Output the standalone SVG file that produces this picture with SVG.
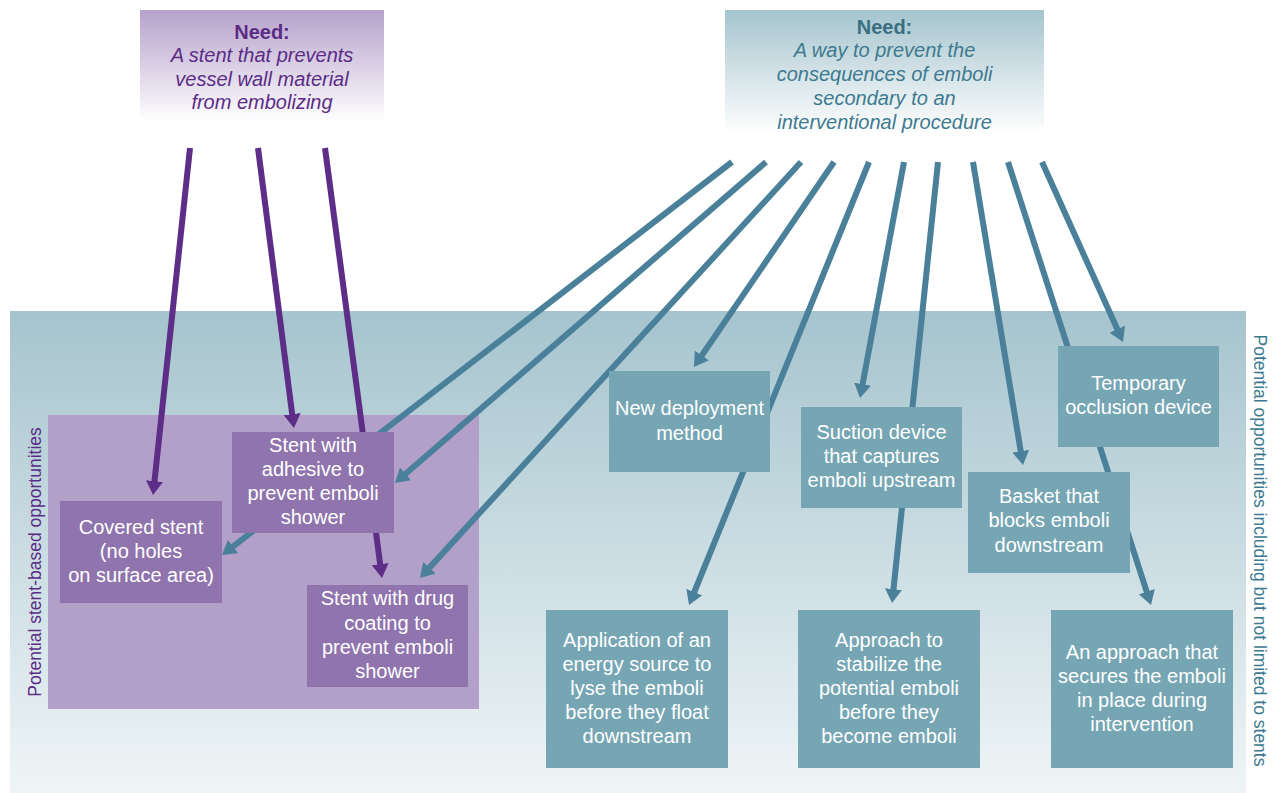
<svg xmlns="http://www.w3.org/2000/svg" width="1279" height="793" viewBox="0 0 1279 793">
<defs>
<linearGradient id="gPanel" x1="0" y1="0" x2="0" y2="1">
<stop offset="0" stop-color="#a6c4ce"/>
<stop offset="1" stop-color="#eff5f7"/>
</linearGradient>
<linearGradient id="gNeedP" x1="0" y1="0" x2="0" y2="1">
<stop offset="0" stop-color="#b5a1cb"/>
<stop offset="1" stop-color="#ffffff"/>
</linearGradient>
<linearGradient id="gNeedT" x1="0" y1="0" x2="0" y2="1">
<stop offset="0" stop-color="#a5c4ce"/>
<stop offset="1" stop-color="#ffffff"/>
</linearGradient>
<marker id="mP" markerUnits="userSpaceOnUse" viewBox="0 0 14 17" markerWidth="14" markerHeight="17" refX="1" refY="8.5" orient="auto">
<path d="M0,0 L14,8.5 L0,17 z" fill="#5e2d87"/>
</marker>
<marker id="mT" markerUnits="userSpaceOnUse" viewBox="0 0 14 17" markerWidth="14" markerHeight="17" refX="1" refY="8.5" orient="auto">
<path d="M0,0 L14,8.5 L0,17 z" fill="#4a8099"/>
</marker>
</defs>
<style>
.pn{fill:#8f74ad}
.tn{fill:#76a6b4}
.nt{font-family:"Liberation Sans",Arial,sans-serif;font-size:20px;fill:#ffffff;text-anchor:middle}
.ap{stroke:#5e2d87;stroke-width:6;fill:none;marker-end:url(#mP)}
.at{stroke:#4a8099;stroke-width:6;fill:none;marker-end:url(#mT)}
.nd{font-family:"Liberation Sans",Arial,sans-serif;font-size:20px;text-anchor:middle}
.side{font-family:"Liberation Sans",Arial,sans-serif;font-size:17.5px;text-anchor:middle}
</style>
<rect width="1279" height="793" fill="#ffffff"/>
<g id="panel">
<rect x="10" y="311" width="1236" height="482" fill="url(#gPanel)"/>
<text class="side" fill="#3d7a8f" transform="translate(1254,550.5) rotate(90)">Potential opportunities including but not limited to stents</text>
</g>
<g id="stent-region">
<rect x="48" y="415" width="431" height="294" fill="#b3a0c9"/>
<text class="side" fill="#5b2c86" transform="translate(41,562) rotate(-90)">Potential stent-based opportunities</text>
</g>
<g id="need-stent">
<rect x="140" y="10" width="244" height="112" fill="url(#gNeedP)"/>
<text class="nd" fill="#5b2c86"><tspan x="262" y="38.5" font-weight="bold">Need:</tspan><tspan x="262" y="62" font-style="italic">A stent that prevents</tspan><tspan x="262" y="85.5" font-style="italic">vessel wall material</tspan><tspan x="262" y="109" font-style="italic">from embolizing</tspan></text>
</g>
<g id="need-emboli">
<rect x="725" y="10" width="319" height="124" fill="url(#gNeedT)"/>
<text class="nd" fill="#3e7a8f"><tspan x="884.5" y="33.5" font-weight="bold" fill="#3a6f82">Need:</tspan><tspan x="884.5" y="57" font-style="italic">A way to prevent the</tspan><tspan x="884.5" y="81" font-style="italic">consequences of emboli</tspan><tspan x="884.5" y="105" font-style="italic">secondary to an</tspan><tspan x="884.5" y="129" font-style="italic">interventional procedure</tspan></text>
</g>
<g id="connectors">
<line class="ap" x1="190" y1="148" x2="154.4" y2="482.1"/>
<line class="ap" x1="258" y1="148" x2="292.3" y2="415.1"/>
<line class="ap" x1="325" y1="148" x2="380.3" y2="565.1"/>
<line class="at" x1="732" y1="162" x2="232.3" y2="547.1"/>
<line class="at" x1="766" y1="162" x2="404.8" y2="474.5"/>
<line class="at" x1="801" y1="162" x2="428.8" y2="568.4"/>
<line class="at" x1="834" y1="162" x2="701.3" y2="356.3"/>
<line class="at" x1="869" y1="162" x2="693.9" y2="593"/>
<line class="at" x1="904" y1="162" x2="862.4" y2="385.2"/>
<line class="at" x1="938" y1="162" x2="893.4" y2="590.1"/>
<line class="at" x1="973" y1="162" x2="1020.9" y2="452.2"/>
<line class="at" x1="1008" y1="162" x2="1147" y2="592.6"/>
<line class="at" x1="1042" y1="162" x2="1117.7" y2="330.1"/>
</g>
<g id="covered-stent">
<rect class="pn" x="60" y="501" width="162" height="102"/>
<text class="nt"><tspan x="141" y="533.7">Covered stent</tspan><tspan x="141" y="557.7">(no holes</tspan><tspan x="141" y="582">on surface area)</tspan></text>
</g>
<g id="stent-adhesive">
<rect class="pn" x="232" y="432" width="162" height="101"/>
<text class="nt"><tspan x="313" y="452">Stent with</tspan><tspan x="313" y="476">adhesive to</tspan><tspan x="313" y="500">prevent emboli</tspan><tspan x="313" y="524">shower</tspan></text>
</g>
<g id="stent-drug">
<rect class="pn" x="307" y="585" width="161" height="102"/>
<text class="nt"><tspan x="387.5" y="605">Stent with drug</tspan><tspan x="387.5" y="629.5">coating to</tspan><tspan x="387.5" y="653.5">prevent emboli</tspan><tspan x="387.5" y="677.5">shower</tspan></text>
</g>
<g id="new-deployment">
<rect class="tn" x="609" y="371" width="161" height="101"/>
<text class="nt"><tspan x="689.5" y="415">New deployment</tspan><tspan x="689.5" y="439.5">method</tspan></text>
</g>
<g id="suction-device">
<rect class="tn" x="801" y="407" width="161" height="101"/>
<text class="nt"><tspan x="881.5" y="439">Suction device</tspan><tspan x="881.5" y="463">that captures</tspan><tspan x="881.5" y="487">emboli upstream</tspan></text>
</g>
<g id="temporary-occlusion">
<rect class="tn" x="1058" y="346" width="161" height="101"/>
<text class="nt"><tspan x="1138.5" y="390">Temporary</tspan><tspan x="1138.5" y="414">occlusion device</tspan></text>
</g>
<g id="basket">
<rect class="tn" x="968" y="472" width="162" height="101"/>
<text class="nt"><tspan x="1049" y="503">Basket that</tspan><tspan x="1049" y="527">blocks emboli</tspan><tspan x="1049" y="552">downstream</tspan></text>
</g>
<g id="energy-source">
<rect class="tn" x="546" y="610" width="182" height="158"/>
<text class="nt"><tspan x="637" y="647">Application of an</tspan><tspan x="637" y="671">energy source to</tspan><tspan x="637" y="695">lyse the emboli</tspan><tspan x="637" y="719">before they float</tspan><tspan x="637" y="743">downstream</tspan></text>
</g>
<g id="stabilize">
<rect class="tn" x="798" y="610" width="182" height="158"/>
<text class="nt"><tspan x="889" y="647">Approach to</tspan><tspan x="889" y="671">stabilize the</tspan><tspan x="889" y="695">potential emboli</tspan><tspan x="889" y="719">before they</tspan><tspan x="889" y="743">become emboli</tspan></text>
</g>
<g id="secure-emboli">
<rect class="tn" x="1051" y="610" width="182" height="158"/>
<text class="nt"><tspan x="1142" y="658.5">An approach that</tspan><tspan x="1142" y="683">secures the emboli</tspan><tspan x="1142" y="707">in place during</tspan><tspan x="1142" y="731">intervention</tspan></text>
</g>
</svg>
